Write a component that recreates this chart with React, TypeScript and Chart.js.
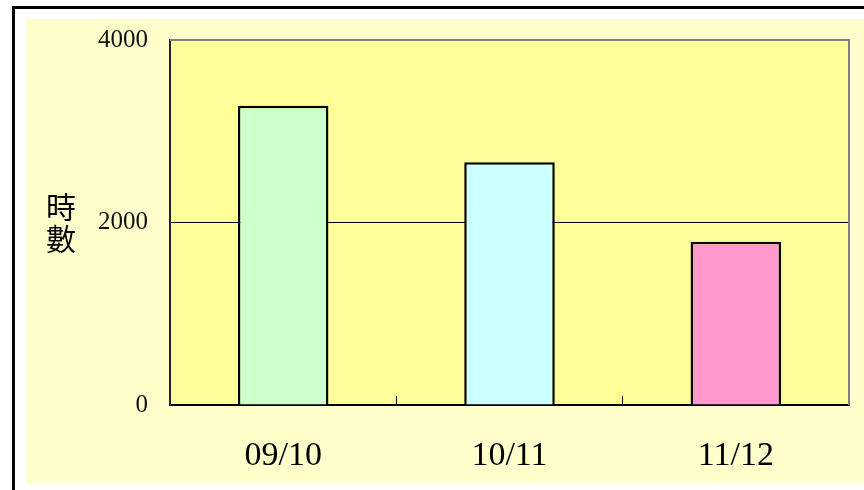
import { useEffect, useRef } from 'react';
import { Chart, registerables } from 'chart.js';

Chart.register(...registerables);

const categories = ['09/10', '10/11', '11/12'];
const hours = [3280, 2660, 1790];
const barColors = ['#CCFFCC', '#CCFFFF', '#FF99CC'];
const yTicks = [0, 2000, 4000];
const yTitle = ['時', '數'];

export default function App() {
  const ref = useRef<HTMLCanvasElement>(null);

  useEffect(() => {
    document.body.style.margin = '0';
    document.body.style.overflow = 'hidden';
    const canvas = ref.current;
    if (!canvas) return;

    const plotDecor = {
      id: 'plotDecor',
      beforeDraw(chart: any) {
        const { ctx, chartArea: a } = chart;
        ctx.save();
        ctx.fillStyle = '#FFFF99';
        ctx.fillRect(a.left, a.top, a.right - a.left, a.bottom - a.top);
        ctx.restore();
      },
      beforeDatasetsDraw(chart: any) {
        const { ctx, chartArea: a } = chart;
        ctx.save();
        ctx.strokeStyle = '#808080';
        ctx.lineWidth = 2;
        ctx.beginPath();
        ctx.moveTo(a.left, a.top);
        ctx.lineTo(a.right, a.top);
        ctx.lineTo(a.right, a.bottom);
        ctx.stroke();
        ctx.restore();
      },
      afterDraw(chart: any) {
        const { ctx, chartArea: a } = chart;
        const cy = (a.top + a.bottom) / 2;
        ctx.save();
        ctx.fillStyle = '#000';
        ctx.font = '30px "Noto Sans CJK TC"';
        ctx.textAlign = 'center';
        ctx.textBaseline = 'middle';
        yTitle.forEach((ch, i) => {
          ctx.fillText(ch, 35, cy - 16 + i * 32);
        });
        ctx.restore();
      },
    };

    const chart = new Chart(canvas, {
      type: 'bar',
      data: {
        labels: categories,
        datasets: [
          {
            data: hours,
            backgroundColor: barColors,
            borderColor: '#000',
            borderWidth: 2.5,
            barPercentage: 0.4,
            categoryPercentage: 1,
          },
        ],
      },
      options: {
        responsive: false,
        maintainAspectRatio: false,
        animation: false,
        devicePixelRatio: 1,
        layout: { padding: { top: 21, right: 15, left: 0, bottom: 0 } },
        plugins: {
          legend: { display: false },
          tooltip: { enabled: false },
          title: { display: false },
        },
        scales: {
          x: {
            afterFit(scale: any) {
              scale.height = 78;
              scale.paddingLeft = 0;
              scale.paddingRight = 0;
            },
            grid: {
              display: true,
              drawOnChartArea: false,
              drawTicks: true,
              tickLength: -9,
              tickColor: '#000',
              tickWidth: 1,
              offset: true,
            },
            border: { display: true, color: '#000', width: 2 },
            ticks: {
              color: '#000',
              padding: 40,
              font: { family: '"Liberation Serif", serif', size: 34 },
            },
          },
          y: {
            min: 0,
            max: 4000,
            afterFit(scale: any) {
              scale.width = 144;
              scale.paddingTop = 0;
              scale.paddingBottom = 0;
            },
            afterBuildTicks(scale: any) {
              scale.ticks = yTicks.map((v) => ({ value: v }));
            },
            grid: {
              color: (c: any) => (c.tick && c.tick.value === 2000 ? '#000' : 'rgba(0,0,0,0)'),
              lineWidth: 1,
              drawTicks: true,
              tickLength: -10,
              tickColor: '#000',
            },
            border: { display: true, color: '#222', width: 2 },
            ticks: {
              color: '#111',
              padding: 32,
              callback: (v: any) => String(v),
              font: { family: '"Liberation Serif", serif', size: 25 },
            },
          },
        },
      },
      plugins: [plotDecor],
    });

    return () => chart.destroy();
  }, []);

  return (
    <div style={{ position: 'fixed', left: 0, top: 0, width: 864, height: 490, overflow: 'hidden', background: '#fff' }}>
      <div
        style={{
          position: 'absolute',
          left: 12,
          top: 6,
          width: 900,
          height: 520,
          borderLeft: '3px solid #000',
          borderTop: '3px solid #000',
          background: '#fff',
        }}
      />
      <div
        style={{
          position: 'absolute',
          left: 26,
          top: 19,
          width: 838,
          height: 464,
          background: '#FFFFCC',
        }}
      >
        <canvas ref={ref} width={838} height={464} style={{ display: 'block', width: 838, height: 464 }} />
      </div>
    </div>
  );
}
